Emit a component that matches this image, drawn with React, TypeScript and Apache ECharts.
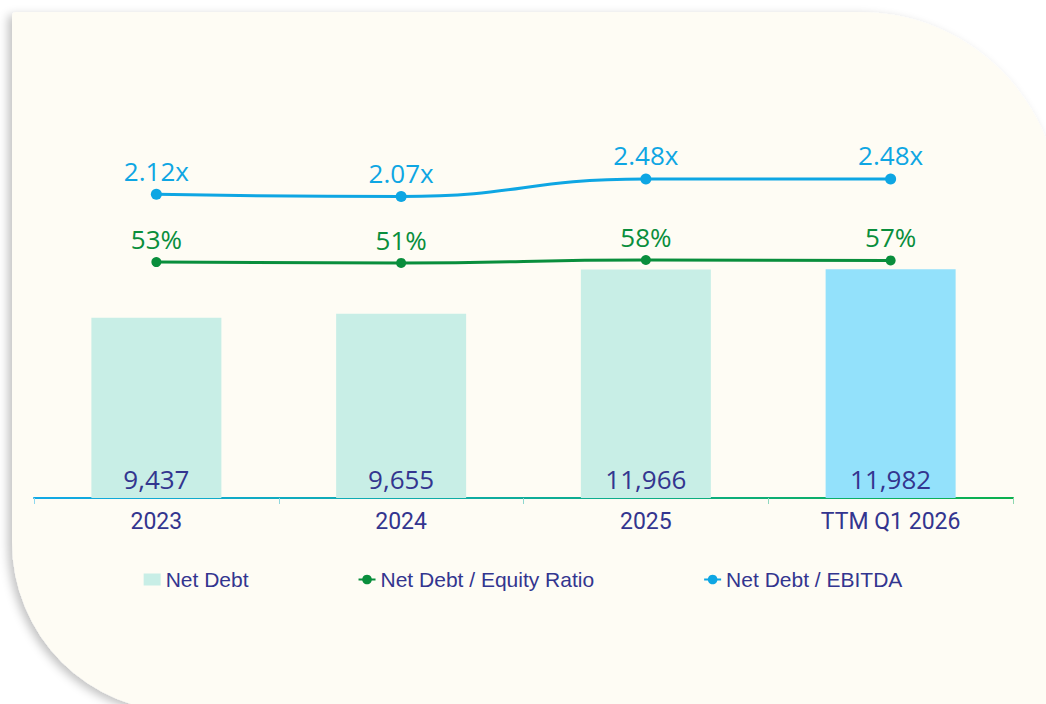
import React, { useEffect, useRef } from 'react';
import * as echarts from 'echarts';

const categories = ['2023', '2024', '2025', 'TTM Q1 2026'];
const netDebt = [9437, 9655, 11966, 11982];
const equityRatio = [53, 51, 58, 57];
const ebitdaRatio = [2.12, 2.07, 2.48, 2.48];

const NAVY = '#33358F';
const BLUE = '#0EA6E3';
const GREEN = '#098E3C';
const MINT = '#C8EEE6';
const SKY = '#93E1FB';
const VAL_FONT = "'Open Sans', sans-serif";

export default function App() {
  const ref = useRef<HTMLDivElement>(null);
  useEffect(() => {
    document.body.style.margin = '0';
    const chart = echarts.init(ref.current!, null, { renderer: 'svg', width: 1046, height: 704 });
    const axisGrad = new echarts.graphic.LinearGradient(34, 0, 1013, 0, [
      { offset: 0, color: '#12A9E6' },
      { offset: 1, color: '#0BB04E' },
    ], true);
    const tickGrad = new echarts.graphic.LinearGradient(34, 0, 1013, 0, [
      { offset: 0, color: '#8ED8EE' },
      { offset: 1, color: '#8ED8B0' },
    ], true);
    chart.setOption({
      animation: false,
      backgroundColor: '#FFFFFF',
      graphic: [
        {
          type: 'rect',
          z: -10,
          silent: true,
          shape: { x: 12, y: 12, width: 1048, height: 700, r: [4, 200, 0, 170] },
          style: {
            fill: '#FEFCF4',
            shadowBlur: 10,
            shadowOffsetX: -4,
            shadowOffsetY: 3,
            shadowColor: 'rgba(0,0,0,0.24)',
          },
        },
      ],
      grid: { left: 34, right: 33, top: 97, bottom: 206, containLabel: false },
      legend: {
        left: 'center',
        top: 564,
        itemWidth: 17,
        itemHeight: 12,
        itemGap: 109,
        textStyle: { color: NAVY, fontSize: 21, fontFamily: "'Liberation Sans', Arial, sans-serif" },
        data: [
          { name: 'Net Debt', icon: 'rect' },
          { name: 'Net Debt / Equity Ratio' },
          { name: 'Net Debt / EBITDA' },
        ],
      },
      xAxis: {
        type: 'category',
        data: categories,
        axisLine: { show: true, lineStyle: { color: axisGrad, width: 2 } },
        axisTick: { show: true, length: 6, lineStyle: { color: tickGrad, width: 1 } },
        axisLabel: { color: NAVY, fontSize: 23, fontFamily: 'Roboto, sans-serif', margin: 12 },
        splitLine: { show: false },
      },
      yAxis: [
        { type: 'value', min: 0, max: 21000, show: false, splitLine: { show: false } },
        { type: 'value', min: -500, max: 440, show: false, splitLine: { show: false } },
        { type: 'value', min: -5, max: 4.4, show: false, splitLine: { show: false } },
      ],
      series: [
        {
          name: 'Net Debt',
          type: 'bar',
          yAxisIndex: 0,
          barWidth: 130,
          itemStyle: { color: MINT },
          data: netDebt.map((v, i) => (i === netDebt.length - 1 ? { value: v, itemStyle: { color: SKY } } : v)),
          label: {
            show: true,
            position: 'insideBottom',
            distance: 6,
            color: NAVY,
            fontSize: 26,
            fontFamily: VAL_FONT,
            formatter: (p: any) => Number(p.value).toLocaleString('en-US'),
          },
        },
        {
          name: 'Net Debt / Equity Ratio',
          type: 'line',
          yAxisIndex: 1,
          data: equityRatio,
          smooth: true,
          symbol: 'circle',
          symbolSize: 10,
          itemStyle: { color: GREEN },
          lineStyle: { color: GREEN, width: 3 },
          label: {
            show: true,
            position: 'top',
            distance: 5,
            color: GREEN,
            fontSize: 26,
            fontFamily: VAL_FONT,
            formatter: (p: any) => `${p.value}%`,
          },
          z: 3,
        },
        {
          name: 'Net Debt / EBITDA',
          type: 'line',
          yAxisIndex: 2,
          data: ebitdaRatio,
          smooth: true,
          symbol: 'circle',
          symbolSize: 11,
          itemStyle: { color: BLUE },
          lineStyle: { color: BLUE, width: 3 },
          label: {
            show: true,
            position: 'top',
            distance: 5,
            color: BLUE,
            fontSize: 26,
            fontFamily: VAL_FONT,
            formatter: (p: any) => `${Number(p.value).toFixed(2)}x`,
          },
          z: 3,
        },
      ],
    });
    return () => chart.dispose();
  }, []);
  return <div ref={ref} style={{ width: 1046, height: 704 }} />;
}
